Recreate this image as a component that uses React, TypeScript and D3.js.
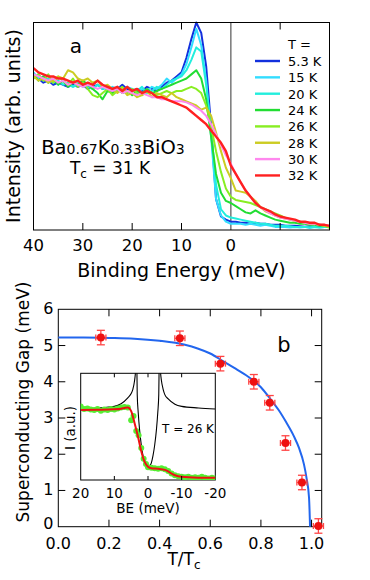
import React from 'react';
import * as d3 from 'd3';

// ---- panel a: ARPES spectra (binding energy in meV, intensity in arb. units) ----
const energy = [
  40, 39, 38, 37, 36, 35, 34, 33, 32, 31,
  30, 29, 28, 27, 26, 25, 24, 23, 22, 21,
  20, 19, 18, 17, 16, 15, 14, 13, 12, 11,
  10, 9, 8, 7, 6, 5, 4, 3, 2, 1,
  0, -1, -2, -3, -4, -5, -6, -7, -8, -9,
  -10, -11, -12, -13, -14, -15, -16, -17, -18, -19,
  -20,
];

const s5_3 = [
  74, 73, 71, 72, 70, 71, 70, 69, 70, 69,
  70, 68, 69, 70, 68, 69, 67, 68, 70, 68,
  67, 68, 67, 69, 68, 67, 69, 71, 72, 74,
  76, 83, 92, 100, 95, 79, 50, 15, 6.5, 5,
  4, 4, 3.5, 3.5, 3, 3.5, 3, 3, 2.5, 2.5,
  2.5, 2, 2, 2, 1.8, 1.6, 1.8, 1.5, 1.6, 1.5,
  1.5,
];
const s15 = [
  76, 73, 74, 71, 73, 70, 72, 70, 69, 71,
  69, 70, 68, 70, 69, 67, 69, 68, 67, 69,
  68, 66, 68, 67, 69, 68, 70, 73, 71, 73,
  75, 80, 88, 97, 89, 72, 45, 15, 7, 4,
  3, 3, 3, 2.5, 3, 2.5, 2, 2.5, 2, 1.5,
  1.5, 1.5, 1.2, 1.5, 1.2, 1.5, 1, 1.5, 1.2, 1.5,
  1.8,
];
const s20 = [
  73, 75, 72, 73, 71, 72, 70, 71, 69, 70,
  71, 69, 68, 70, 68, 69, 67, 69, 68, 66,
  68, 67, 69, 66, 67, 69, 68, 70, 72, 73,
  74, 77, 82, 88, 86, 70, 48, 22, 10, 7,
  6, 5.5, 5, 4.5, 4, 3.5, 3, 3, 2.5, 2,
  2, 2, 1.8, 1.5, 1.5, 1.5, 1.3, 1.5, 1.2, 1.5,
  1.5,
];
const s24 = [
  75, 72, 74, 71, 73, 70, 72, 69, 71, 70,
  72, 70, 68, 66, 63, 67, 66, 68, 66, 67,
  65, 67, 66, 68, 66, 67, 68, 69, 70, 71,
  72, 73, 75, 77, 73, 63, 45, 27, 18, 14,
  13, 11.5, 10, 8.5, 8, 9.5, 8, 7, 6, 5,
  4.5, 4, 3.5, 3.5, 3, 3, 2.5, 2.5, 2, 2,
  1.5,
];
const s26 = [
  73, 75, 72, 75, 71, 74, 72, 70, 73, 69,
  71, 68, 65, 64, 66, 68, 65, 67, 69, 66,
  68, 66, 65, 67, 66, 65, 66, 67, 66, 67,
  67, 68, 69, 68, 66, 60, 50, 38, 28, 20,
  16, 14.5, 14, 13.5, 13, 12, 11, 10, 9, 8,
  7, 6, 5, 4.5, 4, 3.5, 3, 3, 2.5, 2,
  1,
];
const s28 = [
  74, 72, 73, 71, 72, 74, 73, 77, 76, 73,
  72, 73, 71, 72, 69, 70, 68, 66, 68, 65,
  66, 64, 65, 67, 64, 66, 65, 64, 66, 64,
  63, 62, 61, 60, 58, 59, 55, 47, 38, 30,
  25, 19, 18.5, 18, 16, 14, 11, 9, 8, 7,
  6, 5.5, 5, 4.5, 4, 3.5, 3, 3, 2.5, 2,
  2,
];
const s30 = [
  75, 74, 73, 72, 73, 71, 72, 70, 71, 70,
  69, 70, 69, 68, 69, 68, 67, 68, 66, 67,
  66, 65, 66, 65, 64, 64, 63, 63, 62, 62,
  62, 61.5, 60.5, 59, 57.5, 55, 51, 46, 41, 36,
  32, 27, 23, 19, 16, 13, 11, 9.5, 8, 7,
  6, 5.5, 5, 4.5, 4, 3.5, 3, 3, 2.5, 2.5,
  2,
];
const s32 = [
  78, 76, 75, 74, 74, 73, 73, 72, 71, 72,
  70, 71, 70, 72, 70, 69, 68, 69, 67, 69,
  67, 68, 66, 67, 66, 64, 64, 63, 62, 61,
  60, 59, 57, 55, 53, 51, 48, 45, 42, 38,
  31, 27, 23, 19, 16, 13, 11, 10, 9, 7.5,
  6.5, 6, 5.5, 5, 4, 4, 3.5, 3.5, 2.5, 2.5,
  2,
];

const tempLabels = ['5.3 K', '15 K', '20 K', '24 K', '26 K', '28 K', '30 K', '32 K'];
const tempColors = ['#1230dd', '#33ddff', '#22eedd', '#22dd33', '#88ee22', '#cccc22', '#ff88ee', '#ff2020'];
const spectra = [s5_3, s15, s20, s24, s26, s28, s30, s32];
const energyTicks = [40, 30, 20, 10, 0, -10];
const energyTickLabels = ['40', '30', '20', '10', '0', ''];

// ---- panel b: gap vs reduced temperature ----
const tRatio = [0.168, 0.48, 0.64, 0.772, 0.835, 0.897, 0.962, 1.027];
const gap = [5.22, 5.2, 4.5, 4.0, 3.42, 2.31, 1.22, 0.02];
const gapErr = [0.2, 0.2, 0.2, 0.2, 0.2, 0.2, 0.2, 0.2];
const tErr = [0.02, 0.02, 0.02, 0.02, 0.02, 0.02, 0.02, 0.02];

// fitted curve
const fitT = [0, 0.1, 0.2, 0.3, 0.4, 0.5, 0.55, 0.6, 0.65, 0.7, 0.75, 0.8, 0.84, 0.87, 0.9, 0.93, 0.95, 0.97, 0.98, 0.99, 0.994];
const fitGap = [5.22, 5.22, 5.21, 5.19, 5.13, 5.02, 4.92, 4.78, 4.57, 4.36, 4.14, 3.85, 3.5, 3.22, 2.88, 2.5, 2.18, 1.72, 1.35, 0.8, 0];

const tTicks = [0, 0.2, 0.4, 0.6, 0.8, 1.0];
const gapTicks = [0, 1, 2, 3, 4, 5, 6];

// ---- inset: 26 K spectrum with fit ----
const dotBE = [20, 19, 18, 17, 16, 15, 14, 13, 12, 11, 10, 9, 8, 7, 6, 5, 4.3, 3.5, 2.8, 2, 1.3, 0.6, 0,
  -1, -2, -3, -4, -5, -6, -7, -8, -9, -10, -11, -12, -13, -14, -15, -16, -17, -18, -19, -20];
const dotI = [0.69, 0.665, 0.67, 0.66, 0.655, 0.665, 0.65, 0.66, 0.655, 0.665, 0.66, 0.67, 0.68, 0.685, 0.68, 0.56, 0.6, 0.46, 0.42, 0.3, 0.2, 0.15, 0.12,
  0.115, 0.11, 0.105, 0.11, 0.1, 0.085, 0.06, 0.045, 0.035, 0.03, 0.025, 0.03, 0.02, 0.025, 0.02, 0.03, 0.02, 0.015, 0.02, 0.015];

const fitBE = [20, 15, 10, 8, 7, 6, 5, 4, 3, 2, 1, 0, -1, -3, -5, -6, -7, -8, -10, -15, -20];
const fitI = [0.656, 0.658, 0.662, 0.668, 0.675, 0.68, 0.645, 0.535, 0.41, 0.27, 0.17, 0.125, 0.11, 0.105, 0.095, 0.08, 0.06, 0.045, 0.03, 0.022, 0.02];

const dosBE = [20, 15, 10, 8, 6, 5, 4.5, 4, 3.7, 3.5, 3.4, 3.3, 3.2, 2.9, 2.5, 2, 1.5, 1, 0.5, 0,
  -0.5, -1, -1.5, -2, -2.5, -2.9, -3.2, -3.3, -3.4, -3.5, -3.7, -4, -4.5, -5, -6, -8, -10, -15, -20];
const dosI = [0.67, 0.675, 0.69, 0.715, 0.77, 0.81, 0.85, 0.93, 1.02, 1.15, 1.3, 1.05, 0.8, 0.63, 0.47, 0.33, 0.23, 0.16, 0.13, 0.12,
  0.13, 0.16, 0.23, 0.33, 0.47, 0.63, 0.8, 1.05, 1.3, 1.15, 1.02, 0.93, 0.85, 0.8, 0.76, 0.71, 0.69, 0.675, 0.665];

const insetTicks = [20, 10, 0, -10, -20];

const font = "'DejaVu Sans', sans-serif";

export default function App() {
  // panel a geometry
  const aL = 33.5, aR = 329.5, aT = 22.5, aB = 230;
  const xA = d3.scaleLinear().domain([40, -20]).range([aL, aR]);
  const yA = d3.scaleLinear().domain([0, 100]).range([aB, aT]);
  const specLine = d3.line<number>().x((_, i) => xA(energy[i])).y((d) => yA(d));

  // panel b geometry
  const bL = 58.3, bR = 321.7, bT = 309.3, bB = 526.7;
  const xB = d3.scaleLinear().domain([0, 1.04]).range([bL, bR]);
  const yB = d3.scaleLinear().domain([0, 6]).range([bB, bT]);
  const fitLine = d3.line<number>().x((_, i) => xB(fitT[i])).y((d) => yB(d)).curve(d3.curveMonotoneX);

  // inset geometry
  const iL = 80.7, iR = 215.3, iT = 373.3, iB = 480;
  const xI = d3.scaleLinear().domain([20, -20]).range([iL, iR]);
  const yI = d3.scaleLinear().domain([0, 1]).range([iB, iT]);
  const insetFit = d3.line<number>().x((_, i) => xI(fitBE[i])).y((d) => yI(d)).curve(d3.curveMonotoneX);
  const insetDos = d3.line<number>().x((_, i) => xI(dosBE[i])).y((d) => yI(d)).curve(d3.curveMonotoneX);

  const tick = 7;

  return (
    <svg width={370} height={580} style={{ position: 'absolute', left: 0, top: 0, background: '#fff' }}
      fontFamily={font}>
      <defs>
        <clipPath id="clipA"><rect x={aL} y={aT - 2} width={aR - aL} height={aB - aT + 2} /></clipPath>
        <clipPath id="clipI"><rect x={iL} y={iT} width={iR - iL} height={iB - iT} /></clipPath>
      </defs>

      {/* ---------- panel a ---------- */}
      <line x1={xA(0)} x2={xA(0)} y1={aT} y2={aB} stroke="#777" strokeWidth={1.5} />
      <g clipPath="url(#clipA)">
        {spectra.map((s, k) => (
          <path key={k} d={specLine(s) || ''} fill="none" stroke={tempColors[k]}
            strokeWidth={k === 7 ? 2.4 : 2} strokeLinejoin="round" />
        ))}
      </g>
      <rect x={aL} y={aT} width={aR - aL} height={aB - aT} fill="none" stroke="#000" strokeWidth={1} />
      {energyTicks.map((e, i) => (
        <g key={i}>
          {e !== 0 && e !== 40 && (
            <>
              <line x1={xA(e)} x2={xA(e)} y1={aB} y2={aB - tick} stroke="#000" />
              <line x1={xA(e)} x2={xA(e)} y1={aT} y2={aT + tick} stroke="#000" />
            </>
          )}
          <text x={xA(e)} y={251} textAnchor="middle" fontSize={16.5}>{energyTickLabels[i]}</text>
        </g>
      ))}
      <text x={xA(10)} y={276.5} textAnchor="middle" fontSize={19}>Binding Energy (meV)</text>
      <text transform="translate(20,126) rotate(-90)" textAnchor="middle" fontSize={19}>Intensity (arb. units)</text>
      <text x={76} y={53} textAnchor="middle" fontSize={20}>a</text>
      <text x={113} y={154} textAnchor="middle" fontSize={19.5}>
        Ba<tspan fontSize={14}>0.67</tspan>K<tspan fontSize={14}>0.33</tspan>BiO<tspan fontSize={14}>3</tspan>
      </text>
      <text x={110} y={174} textAnchor="middle" fontSize={17}>
        T<tspan fontSize={12} dy={4}>c</tspan><tspan dy={-4}> = 31 K</tspan>
      </text>

      {/* legend */}
      <text x={288} y={48.5} fontSize={13}>T =</text>
      {tempLabels.map((lab, k) => (
        <g key={k}>
          <line x1={255} x2={280} y1={61 + k * 16.35} y2={61 + k * 16.35} stroke={tempColors[k]} strokeWidth={2.4} />
          <text x={288} y={61 + k * 16.35 + 5} fontSize={13}>{lab}</text>
        </g>
      ))}

      {/* ---------- panel b ---------- */}
      <rect x={bL} y={bT} width={bR - bL} height={bB - bT} fill="none" stroke="#000" strokeWidth={1} />
      {tTicks.map((t, i) => (
        <g key={i}>
          {t > 0 && t < 1.04 && (
            <>
              <line x1={xB(t)} x2={xB(t)} y1={bB} y2={bB - tick} stroke="#000" />
              <line x1={xB(t)} x2={xB(t)} y1={bT} y2={bT + tick} stroke="#000" />
            </>
          )}
          <text x={xB(t)} y={548.5} textAnchor="middle" fontSize={16}>{t.toFixed(1)}</text>
        </g>
      ))}
      {gapTicks.map((g, i) => (
        <g key={i}>
          {g > 0 && g < 6 && (
            <>
              <line x1={bL} x2={bL + tick} y1={yB(g)} y2={yB(g)} stroke="#000" />
              <line x1={bR} x2={bR - tick} y1={yB(g)} y2={yB(g)} stroke="#000" />
            </>
          )}
          <text x={53.5} y={yB(g) + (g === 0 ? 2.5 : 5)} textAnchor="end" fontSize={16}>{g}</text>
        </g>
      ))}
      <text transform="translate(28.5,402) rotate(-90)" textAnchor="middle" fontSize={17}>Superconducting Gap (meV)</text>
      <text x={184} y={565} textAnchor="middle" fontSize={17}>
        T/T<tspan fontSize={12} dy={4}>c</tspan>
      </text>
      <text x={284} y={352} textAnchor="middle" fontSize={21}>b</text>

      <path d={fitLine(fitGap) || ''} fill="none" stroke="#2266ee" strokeWidth={2} />

      {tRatio.map((t, i) => {
        const cx = xB(t), cy = yB(gap[i]);
        const y1 = yB(gap[i] + gapErr[i]), y2 = yB(gap[i] - gapErr[i]);
        const x1 = xB(t - tErr[i]), x2 = xB(t + tErr[i]);
        return (
          <g key={i} stroke="#ff4444" strokeWidth={1.3}>
            <line x1={cx} x2={cx} y1={y1} y2={y2} />
            <line x1={cx - 4} x2={cx + 4} y1={y1} y2={y1} />
            <line x1={cx - 4} x2={cx + 4} y1={y2} y2={y2} />
            <line x1={x1} x2={x2} y1={cy} y2={cy} />
            <line x1={x1} x2={x1} y1={cy - 3} y2={cy + 3} />
            <line x1={x2} x2={x2} y1={cy - 3} y2={cy + 3} />
            <circle cx={cx} cy={cy} r={4} fill="#ee1111" stroke="none" />
          </g>
        );
      })}

      {/* ---------- inset ---------- */}
      <rect x={iL} y={iT} width={iR - iL} height={iB - iT} fill="#fff" stroke="#000" strokeWidth={1} />
      <g clipPath="url(#clipI)">
        <path d={insetDos(dosI) || ''} fill="none" stroke="#000" strokeWidth={1.1} />
        {dotBE.map((e, i) => (
          <circle key={i} cx={xI(e)} cy={yI(dotI[i])} r={3} fill="#55ee33" />
        ))}
        <path d={insetFit(fitI) || ''} fill="none" stroke="#ee1111" strokeWidth={2} />
      </g>
      {insetTicks.map((e, i) => (
        <g key={i}>
          {e !== 20 && e !== -20 && (
            <>
              <line x1={xI(e)} x2={xI(e)} y1={iB} y2={iB - 4} stroke="#000" />
              <line x1={xI(e)} x2={xI(e)} y1={iT} y2={iT + 4} stroke="#000" />
            </>
          )}
          <text x={xI(e)} y={498.3} textAnchor="middle" fontSize={13.5}>{e}</text>
        </g>
      ))}
      <text x={148} y={513} textAnchor="middle" fontSize={13.5}>BE (meV)</text>
      <text transform="translate(75,428) rotate(-90)" textAnchor="middle" fontSize={13.5}>I (a.u.)</text>
      <text x={188} y={433} textAnchor="middle" fontSize={12}>T = 26 K</text>
    </svg>
  );
}
